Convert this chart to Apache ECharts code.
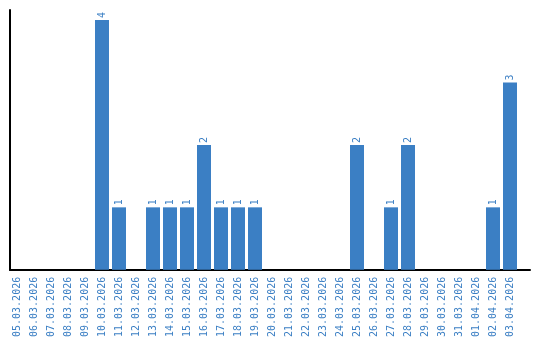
<!DOCTYPE html>
<html><head><meta charset="utf-8">
<script src="https://cdn.jsdelivr.net/npm/echarts@6/dist/echarts.min.js"></script>
<style>html,body{margin:0;padding:0;background:#fff}#c{width:540px;height:340px}</style>
</head><body><div id="c"></div>
<script>
var categories = ["05.03.2026","06.03.2026","07.03.2026","08.03.2026","09.03.2026","10.03.2026","11.03.2026","12.03.2026","13.03.2026","14.03.2026","15.03.2026","16.03.2026","17.03.2026","18.03.2026","19.03.2026","20.03.2026","21.03.2026","22.03.2026","23.03.2026","24.03.2026","25.03.2026","26.03.2026","27.03.2026","28.03.2026","29.03.2026","30.03.2026","31.03.2026","01.04.2026","02.04.2026","03.04.2026"];
var values = [0,0,0,0,0,4,1,0,1,1,1,2,1,1,1,0,0,0,0,0,2,0,1,2,0,0,0,0,1,3];
var color = '#3b7fc4';
var chart = echarts.init(document.getElementById('c'), null, {renderer:'canvas'});
chart.setOption({
  animation:false,
  grid:[{left:8.5, right:21.5, top:10, bottom:70, containLabel:false},
        {left:10, right:10, top:10, bottom:70, containLabel:false}],
  xAxis:[{type:'category', data:categories, gridIndex:0,
    axisLine:{show:false},
    axisTick:{show:false},
    axisLabel:{rotate:90, interval:0, color:color, fontFamily:'DejaVu Sans Mono', fontSize:10, margin:7}},
    {type:'value', gridIndex:1, min:0, max:1, splitLine:{show:false}, axisTick:{show:false}, axisLabel:{show:false},
     axisLine:{show:true, lineStyle:{color:'#000', width:2}}}],
  yAxis:[{type:'value', gridIndex:0, min:0, max:4.16, splitLine:{show:false}, axisTick:{show:false}, axisLabel:{show:false},
    axisLine:{show:false}},
    {type:'value', gridIndex:1, min:0, max:1, splitLine:{show:false}, axisTick:{show:false}, axisLabel:{show:false},
    axisLine:{show:true, lineStyle:{color:'#000', width:2}}}],
  series:[{type:'bar', xAxisIndex:0, yAxisIndex:0, data:values.map(function(v){return v===0?null:v;}), barWidth:14,
    itemStyle:{color:color},
    label:{show:true, position:'top', rotate:90, align:'left', verticalAlign:'middle', distance:2, color:color, fontFamily:'DejaVu Sans Mono', fontSize:10}}]
});
</script></body></html>
